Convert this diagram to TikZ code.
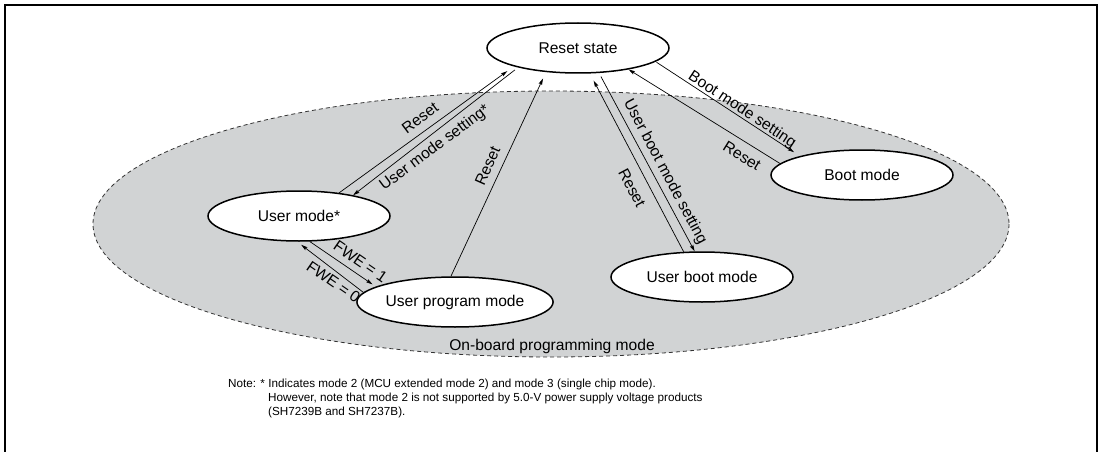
\documentclass[tikz,border=0pt]{standalone}
\usepackage{fontspec}
\setmainfont{Liberation Sans}
\usetikzlibrary{shapes.geometric,arrows.meta}
\definecolor{zonegrey}{HTML}{D1D3D4}
\definecolor{dashgrey}{HTML}{333333}
\newcommand{\lblfont}{\fontsize{15.6}{18}\selectfont}
\newcommand{\notefont}{\fontsize{11.7}{14}\selectfont}
\begin{document}
\begin{tikzpicture}[x=1pt,y=-1pt,
  state/.style={ellipse,draw,fill=white,line width=1.5pt,minimum width=182pt,minimum height=50pt,inner sep=0pt,font=\lblfont},
  conn/.style={line width=0.7pt,-{Stealth[length=6.5pt,width=3.6pt,inset=1pt]}},
  lab/.style={font=\lblfont,inner sep=0pt},
  note/.style={font=\notefont,inner sep=0pt,anchor=base west},
  zone/.style={fill=zonegrey,draw=dashgrey,line width=0.8pt,dash pattern=on 4pt off 3pt}]
\useasboundingbox (0,0) rectangle (1103,452);
\draw[line width=1.6pt] (5,452) -- (5,5) -- (1097,5) -- (1097,452);
\draw[zone] (551,224) ellipse [x radius=458, y radius=133];
\node[lab] (obpm) at (552,346) {On-board programming mode};

\node[state] (rs) at (578,48) {Reset state};
\node[state] (um) at (299,216) {User mode*};
\node[state] (up) at (455,302) {User program mode};
\node[state] (ub) at (702,277) {User boot mode};
\node[state] (bm) at (862,175) {Boot mode};

\draw[conn,shorten >=8pt] (um.30) -- (rs.196);
\draw[conn,shorten <=4pt] (rs.198) -- (um.21);
\draw[conn,shorten >=7pt] (up.99) -- (rs.217);
\draw[conn,shorten >=8pt] (ub.126) -- (rs.295);
\draw[conn,shorten <=4pt] (rs.310) -- (ub.106);
\draw[conn] (bm.172) -- (rs.337);
\draw[conn,shorten <=1pt,shorten >=7pt] (rs.350) -- (bm.163);
\draw[conn,shorten >=4pt] (um.293) -- (up.169);
\draw[conn,shorten >=5pt] (up.174) -- (um.266);

\node[lab,rotate=36.7] (l1) at (420,118) {Reset};
\node[lab,rotate=36.7] (l2) at (435,148) {User mode setting*};
\node[lab,rotate=66] (l3) at (487.5,166) {Reset};
\node[lab,rotate=-62] (l4) at (632,188) {Reset};
\node[lab,rotate=-62] (l5) at (665,172) {User boot mode setting};
\node[lab,rotate=-32] (l6) at (742,156) {Reset};
\node[lab,rotate=-33.5] (l7) at (742,110) {Boot mode setting};
\node[lab,rotate=-34.5] (l8) at (360.5,261.5) {FWE = 1};
\node[lab,rotate=-34.5] (l9) at (333.5,282) {FWE = 0};

\node[note] (n1) at (228,387) {Note: * Indicates mode 2 (MCU extended mode 2) and mode 3 (single chip mode).};
\node[note] (n2) at (268,401) {However, note that mode 2 is not supported by 5.0-V power supply voltage products};
\node[note] (n3) at (268,415) {(SH7239B and SH7237B).};
\end{tikzpicture}
\end{document}
